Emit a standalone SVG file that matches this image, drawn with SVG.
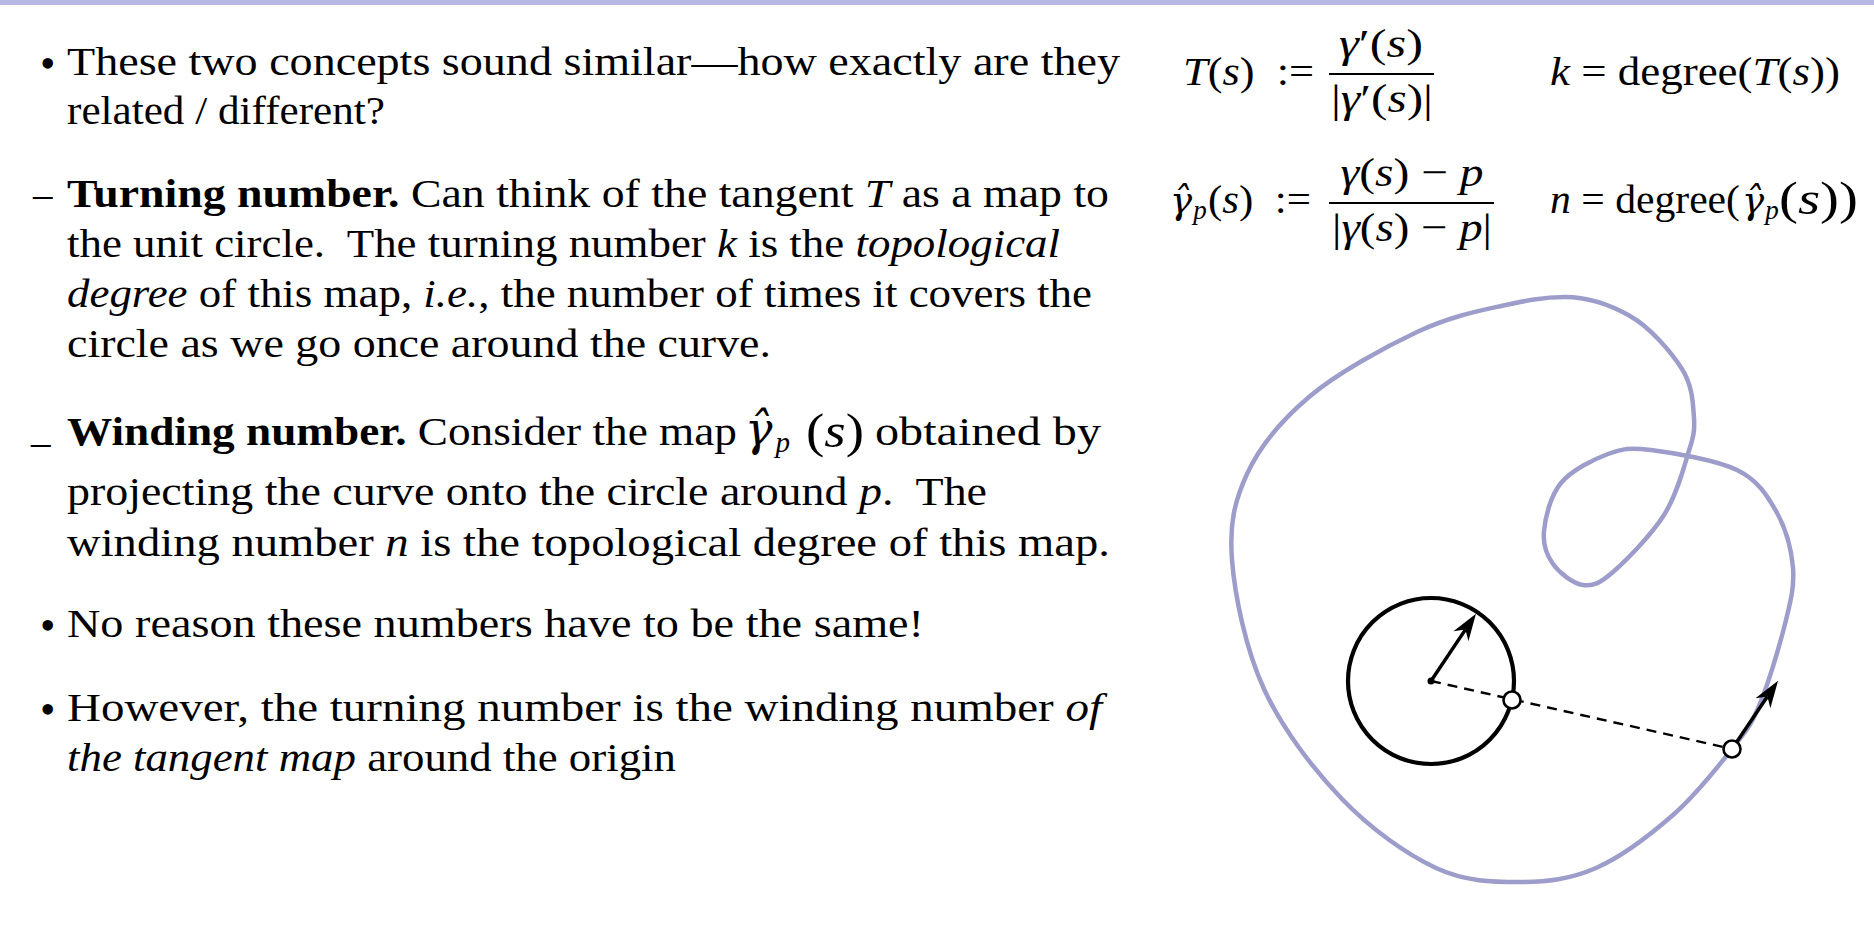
<svg xmlns="http://www.w3.org/2000/svg" width="1874" height="936" viewBox="0 0 1874 936">
<defs>
<style>
.t{font-family:"Liberation Serif","DejaVu Serif",serif;font-size:39px;fill:#000;white-space:pre}
.i{font-style:italic}
.b{font-weight:bold}
.m{font-family:"Liberation Serif","DejaVu Serif",serif;font-size:41px;fill:#000;white-space:pre}
.g{font-family:"DejaVu Serif",serif;font-style:italic}
.bul{font-family:"Liberation Serif",serif;font-size:44px}
.curve{fill:none;stroke:#9d9dcc;stroke-width:4.5}
.blk{fill:none;stroke:#000;stroke-width:4.2}
.vec{stroke:#000;stroke-width:3.5;fill:none}
.dash{stroke:#000;stroke-width:2.4;stroke-dasharray:10 7;fill:none}
.pt{fill:#fff;stroke:#000;stroke-width:2.6}
.bar{stroke:#000;stroke-width:2}
</style>
<marker id="ah" viewBox="-30 -11 32 22" markerWidth="32" markerHeight="22" refX="-19" refY="0" orient="auto" markerUnits="userSpaceOnUse">
<path d="M0,0 L-27,-9 L-19,0 L-27,9 Z" fill="#000"/>
</marker>
</defs>
<rect x="0" y="0" width="1874" height="936" fill="#fff"/>
<rect x="0" y="0" width="1874" height="5" fill="#b8b8e2"/>

<g id="text-left">
<text class="t bul" x="40" y="78">•</text>
<text class="t" x="67" y="75" textLength="1053" lengthAdjust="spacingAndGlyphs">These two concepts sound similar—how exactly are they</text>
<text class="t" x="67" y="124" textLength="318" lengthAdjust="spacingAndGlyphs">related / different?</text>

<text class="t" x="33" y="207">–</text>
<text class="t" x="67" y="207" textLength="1042" lengthAdjust="spacingAndGlyphs"><tspan class="b">Turning number.</tspan> Can think of the tangent <tspan class="i">T</tspan> as a map to</text>
<text class="t" x="67" y="257" textLength="993" lengthAdjust="spacingAndGlyphs">the unit circle.  The turning number <tspan class="i">k</tspan> is the <tspan class="i">topological</tspan></text>
<text class="t" x="67" y="307" textLength="1025" lengthAdjust="spacingAndGlyphs"><tspan class="i">degree</tspan> of this map, <tspan class="i">i.e.</tspan>, the number of times it covers the</text>
<text class="t" x="67" y="357" textLength="704" lengthAdjust="spacingAndGlyphs">circle as we go once around the curve.</text>

<text class="t" x="31" y="442">_</text>
<text class="t" x="67" y="445" textLength="670" lengthAdjust="spacingAndGlyphs"><tspan class="b">Winding number.</tspan> Consider the map</text>
<text class="t" x="745" y="445"><tspan class="g" style="font-size:46px">γ̂</tspan><tspan class="i" dx="3" dy="7" style="font-size:29px">p</tspan></text>
<text class="t" x="806" y="447" textLength="58" lengthAdjust="spacingAndGlyphs" style="font-size:48px">(<tspan class="i">s</tspan>)</text>
<text class="t" x="875" y="445" textLength="226" lengthAdjust="spacingAndGlyphs">obtained by</text>
<text class="t" x="67" y="505" textLength="920" lengthAdjust="spacingAndGlyphs">projecting the curve onto the circle around <tspan class="i">p</tspan>.  The</text>
<text class="t" x="67" y="556" textLength="1043" lengthAdjust="spacingAndGlyphs">winding number <tspan class="i">n</tspan> is the topological degree of this map.</text>

<text class="t bul" x="40" y="640">•</text>
<text class="t" x="67" y="637" textLength="857" lengthAdjust="spacingAndGlyphs">No reason these numbers have to be the same!</text>

<text class="t bul" x="40" y="724">•</text>
<text class="t" x="67" y="721" textLength="1035" lengthAdjust="spacingAndGlyphs">However, the turning number is the winding number <tspan class="i">of</tspan></text>
<text class="t" x="67" y="771" textLength="609" lengthAdjust="spacingAndGlyphs"><tspan class="i">the tangent map</tspan> around the origin</text>
</g>

<g id="formula-T">
<text class="m" x="1183" y="85" textLength="131" lengthAdjust="spacingAndGlyphs"><tspan class="i">T</tspan>(<tspan class="i">s</tspan>)  :=</text>
<text class="m" x="1381" y="57" text-anchor="middle" textLength="84" lengthAdjust="spacingAndGlyphs"><tspan class="i">γ</tspan>′(<tspan class="i">s</tspan>)</text>
<line class="bar" x1="1329" y1="74" x2="1434" y2="74"/>
<text class="m" x="1382" y="112" text-anchor="middle" textLength="102" lengthAdjust="spacingAndGlyphs">|<tspan class="i">γ</tspan>′(<tspan class="i">s</tspan>)|</text>
<text class="m" x="1550" y="85" textLength="290" lengthAdjust="spacingAndGlyphs"><tspan class="i">k</tspan> = degree(<tspan class="i">T</tspan>(<tspan class="i">s</tspan>))</text>
</g>

<g id="formula-gamma">
<text class="m" x="1170" y="213"><tspan class="g" style="font-size:37px">γ̂</tspan><tspan class="i" dx="1" dy="6" style="font-size:27px">p</tspan></text>
<text class="m" x="1208" y="213" textLength="103" lengthAdjust="spacingAndGlyphs">(<tspan class="i">s</tspan>)  :=</text>
<text class="m" x="1412" y="186" text-anchor="middle" textLength="143" lengthAdjust="spacingAndGlyphs"><tspan class="i">γ</tspan>(<tspan class="i">s</tspan>) − <tspan class="i">p</tspan></text>
<line class="bar" x1="1329" y1="203" x2="1494" y2="203"/>
<text class="m" x="1412" y="241" text-anchor="middle" textLength="160" lengthAdjust="spacingAndGlyphs">|<tspan class="i">γ</tspan>(<tspan class="i">s</tspan>) − <tspan class="i">p</tspan>|</text>
<text class="m" x="1550" y="213" textLength="190" lengthAdjust="spacingAndGlyphs"><tspan class="i">n</tspan> = degree(</text>
<text class="m" x="1742" y="213"><tspan class="g" style="font-size:37px">γ̂</tspan><tspan class="i" dx="1" dy="6" style="font-size:27px">p</tspan></text>
<text class="m" x="1779" y="214" textLength="79" lengthAdjust="spacingAndGlyphs" style="font-size:46px">(<tspan class="i">s</tspan>))</text>
</g>

<g id="curve">
<path class="curve" d="M1565,297 C1587,297 1609.7,304.5 1630,316 C1650.3,327.5 1671.3,352 1682,369 C1692.7,386 1693,403.8 1694,418 C1695,432.2 1693,437.8 1688,454 C1683,470.2 1676.5,495.3 1664,515 C1651.5,534.7 1626.5,560.3 1613,572 C1599.5,583.7 1593,586.3 1583,585 C1573,583.7 1559.5,573 1553,564 C1546.5,555 1542.7,544.5 1544,531 C1545.3,517.5 1550.3,495.8 1561,483 C1571.7,470.2 1593,459.5 1608,454 C1623,448.5 1629.5,447.3 1651,450 C1672.5,452.7 1716.2,459.8 1737,470 C1757.8,480.2 1766.7,494.7 1776,511 C1785.3,527.3 1791.5,549.2 1793,568 C1794.5,586.8 1790.7,601 1785,624 C1779.3,647 1767.8,685.2 1759,706 C1750.2,726.8 1746.3,730.8 1732,749 C1717.7,767.2 1695.7,795.2 1673,815 C1650.3,834.8 1621.5,856.8 1596,868 C1570.5,879.2 1546.7,882 1520,882 C1493.3,882 1465.7,881.8 1436,868 C1406.3,854.2 1370.7,828.8 1342,799 C1313.3,769.2 1282.3,728.8 1264,689 C1245.7,649.2 1234.8,595.8 1232,560 C1229.2,524.2 1234.5,501.2 1247,474 C1259.5,446.8 1281,420.7 1309,397 C1337,373.3 1384.7,347.2 1417,332 C1449.3,316.8 1476.8,311.3 1501,306 C1525.2,300.7 1543,297 1565,297 Z"/>
</g>

<g id="unit-circle">
<circle class="blk" cx="1431" cy="681" r="83"/>
<circle cx="1431" cy="681" r="3.5" fill="#000"/>
</g>

<g id="connectors">
<line class="dash" x1="1431" y1="681" x2="1732" y2="749"/>
<line class="vec" x1="1431" y1="681" x2="1465.4" y2="629.6" marker-end="url(#ah)"/>
<line class="vec" x1="1732" y1="749" x2="1767.4" y2="696.6" marker-end="url(#ah)"/>
</g>

<g id="point-projected">
<circle class="pt" cx="1512" cy="700" r="8.5"/>
</g>
<g id="point-curve">
<circle class="pt" cx="1732" cy="749" r="8.5"/>
</g>
</svg>
